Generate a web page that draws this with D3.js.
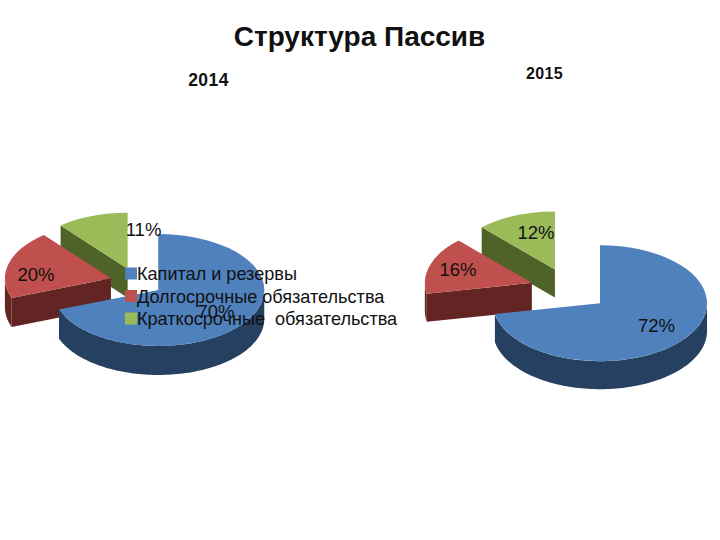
<!DOCTYPE html>
<html>
<head>
<meta charset="utf-8">
<script src="https://cdn.jsdelivr.net/npm/d3@7"></script>
<style>
  html, body { margin: 0; padding: 0; background: white; }
  text { font-family: "Liberation Sans", Arial, sans-serif; fill: #111; }
</style>
</head>
<body>
<svg id="chart" width="720" height="540"></svg>
<script>
let categories = ["Капитал и резервы", "Долгосрочные обязательства", "Краткосрочные  обязательства"];
let values2014 = [70, 20, 11];
let values2015 = [72, 16, 12];
let labels2014 = ["70%", "20%", "11%"];
let labels2015 = ["72%", "16%", "12%"];
let topColors = ["#4f81bd", "#c0504d", "#9bbb59"];
let wallColors = ["#254061", "#632523", "#4f6228"];

let chart = d3.select("#chart");

// x/y of the pie, radii, thickness and how far the slices are pulled out
function drawPie(values, cx, cy, rx, ry, depth, explode) {
    let pie = d3.pie().sort(null)(values);
    let angle = d3.scaleLinear().domain([0, 1]);

    let slices = pie.map((d, i) => {
        let mid = (d.startAngle + d.endAngle) / 2;
        return {
            d: d,
            i: i,
            x: cx + explode * rx * Math.sin(mid),
            y: cy - explode * ry * Math.cos(mid)
        };
    });

    // green goes first, blue last, this is how the slices overlap
    let order = [2, 1, 0];
    let arc = d3.arc().innerRadius(0).outerRadius(rx);

    order.forEach(function (k) {
        let s = slices[k];
        let g = chart.append("g").attr("transform", `translate(${s.x},${s.y})`);
        let a0 = s.d.startAngle, a1 = s.d.endAngle;
        let px = a => rx * Math.sin(a);
        let py = a => -ry * Math.cos(a);

        // cut face, only the left cut of the wedge can be seen
        if (k > 0) {
            g.append("path")
                .attr("d", d3.line()([[0, 0], [px(a0), py(a0)], [px(a0), py(a0) + depth], [0, depth]]))
                .style("fill", wallColors[k]);
        }

        // outer wall, front half of the ellipse only
        let from = Math.max(a0, Math.PI / 2);
        let to = Math.min(a1, Math.PI * 1.5);
        if (to > from) {
            angle.range([from, to]);
            let wall = d3.area()
                .x(t => px(angle(t)))
                .y0(t => py(angle(t)))
                .y1(t => py(angle(t)) + depth);
            g.append("path")
                .attr("d", wall(d3.range(0, 1.001, 0.01)))
                .style("fill", wallColors[k]);
        }

        g.append("path")
            .attr("transform", `scale(1,${ry / rx})`)
            .attr("d", arc(s.d))
            .style("fill", topColors[k]);
    });
}

drawPie(values2014, 136.5, 282, 106, 56, 29, 0.25);
drawPie(values2015, 569.5, 289.5, 107, 58, 28, 0.37);

function addText(str, x, y, size, anchor) {
    return chart.append("text")
        .attr("x", x)
        .attr("y", y)
        .attr("text-anchor", anchor || "start")
        .style("font-size", size + "px")
        .style("white-space", "pre")
        .text(str);
}

addText("Структура Пассив", 359.5, 46, 28, "middle").style("font-weight", "bold");
addText("2014", 208.5, 86, 17.5, "middle").style("font-weight", "bold").style("letter-spacing", "0.4px");
addText("2015", 544.5, 79, 16, "middle").style("font-weight", "bold").style("letter-spacing", "0.4px");

addText(labels2014[0], 216, 318, 18.5, "middle");
addText(labels2014[1], 36, 281, 18.5, "middle");
addText(labels2014[2], 143.5, 236, 18.5, "middle");
addText(labels2015[0], 656.5, 332, 18.5, "middle");
addText(labels2015[1], 458, 276, 18.5, "middle");
addText(labels2015[2], 536, 239, 18.5, "middle");

// legend sits on top of the left pie
let legendY = d3.scalePoint().domain(categories).range([273.5, 318.5]);
categories.forEach(function (name, i) {
    chart.append("rect")
        .attr("x", 125)
        .attr("y", legendY(name) - 6)
        .attr("width", 12)
        .attr("height", 12)
        .style("fill", topColors[i]);
    addText(name, 137, legendY(name) + 6.5, 18.1);
});
</script>
</body>
</html>
